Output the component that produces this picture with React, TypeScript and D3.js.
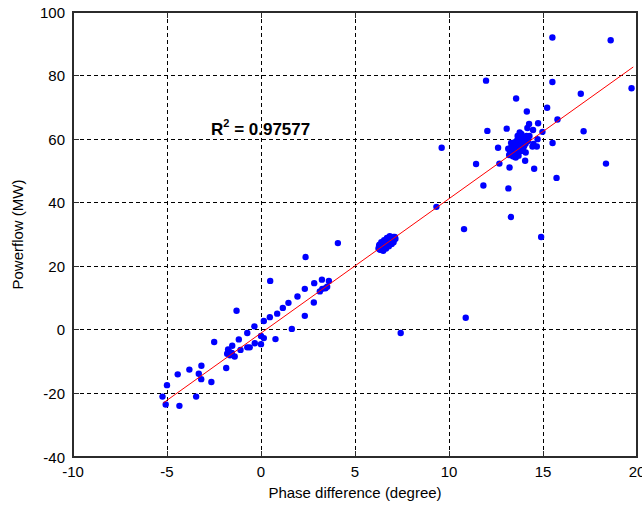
import React from "react";
import * as d3 from "d3";

const phaseDiff: number[] = [
  -5.24, -5.07, -5.0, -4.34, -4.43, -3.81, -3.45, -3.31, -3.17, -3.18, -2.64, -2.49, -1.85,
  -1.71, -1.55, -1.8, -1.65, -1.75, -1.4, -1.53, -1.09, -1.18, -0.73, -0.6, -0.73, -0.35,
  -0.33, 0.0, 0.15, 0.0, 0.15, 0.47, 0.77, 0.86, -1.3, 1.16, 1.46, 1.64, 1.94, 2.33, 2.33,
  2.81, 2.83, 3.13, 3.26, 3.43, 3.52, 3.24, 3.61, 0.49, 2.37, 4.09, 7.43,
  // cluster near 6.7
  6.25, 6.28, 6.32, 6.34, 6.38, 6.4, 6.45, 6.48, 6.5, 6.55, 6.58, 6.6, 6.63, 6.66, 6.7, 6.72,
  6.75, 6.78, 6.82, 6.85, 6.88, 6.92, 6.95, 6.98, 7.02, 7.05, 7.08, 7.12, 6.36, 6.52, 6.9, 7.15,
  6.4, 6.55, 6.7, 6.85, 6.5, 6.65, 6.8, 6.95, 7.05, 6.3,
  // cluster near 13.6
  13.2, 13.25, 13.3, 13.35, 13.38, 13.42, 13.45, 13.48, 13.5, 13.52, 13.55, 13.58, 13.6, 13.62,
  13.65, 13.68, 13.7, 13.72, 13.75, 13.78, 13.8, 13.82, 13.85, 13.88, 13.9, 13.92, 13.95, 13.98,
  14.0, 14.05, 14.08, 14.12, 13.4, 13.55, 13.3, 13.65, 13.85, 14.2, 13.15, 13.7,
  // scattered upper right
  12.04, 13.07, 14.26, 14.74, 14.47, 14.17, 13.76, 14.28, 14.71, 14.97, 14.49, 14.67, 14.44,
  14.08, 13.51, 14.05, 14.53, 12.61, 12.68, 13.22, 11.44, 9.61, 11.97, 13.57, 14.14, 15.22,
  15.77, 15.51, 15.72, 17.16, 18.35, 17.01, 19.71, 15.5, 15.5, 18.6, 11.83, 13.16, 9.33, 13.29,
  10.8, 14.9, 10.89,
];

const powerflow: number[] = [
  -21.0, -23.5, -17.4, -23.9, -14.0, -12.5, -21.0, -13.8, -11.3, -15.5, -16.4, -3.8, -12.0,
  -6.8, -7.3, -7.5, -8.0, -6.2, -8.4, -5.0, -6.3, -3.0, -5.5, -5.5, -1.0, 1.1,
  -4.2, -1.9, -2.6, -4.5, 2.8, 4.0, -2.9, 5.1, 6.0, 6.9, 8.5, 0.3, 10.5, 12.9, 4.4,
  8.6, 14.7, 12.1, 12.9, 13.1, 13.6, 15.8, 15.4, 15.4, 22.9, 27.3, -1.0,
  // cluster near 6.7
  25.6, 26.4, 25.3, 26.0, 26.8, 25.5, 26.2, 27.0, 25.9, 26.6, 27.4, 26.2, 27.0, 27.8, 26.6, 27.4,
  28.1, 27.0, 27.7, 28.4, 27.3, 28.0, 28.8, 27.8, 28.5, 29.2, 28.4, 29.2, 25.2, 27.6, 28.9, 28.7,
  27.6, 28.2, 28.9, 29.5, 24.9, 25.6, 26.3, 27.0, 27.6, 26.8,
  // cluster near 13.6
  55.0, 56.2, 57.4, 55.8, 58.2, 56.8, 55.3, 57.6, 59.0, 56.2, 58.0, 55.6, 57.2, 59.6,
  56.5, 58.4, 55.9, 57.8, 60.0, 56.8, 58.8, 57.4, 59.6, 56.3, 58.2, 60.4, 57.2, 59.0,
  57.9, 60.0, 58.6, 61.0, 54.6, 54.2, 58.8, 61.0, 61.6, 59.4, 57.0, 54.8,
  // scattered upper right
  62.6, 63.3, 64.8, 65.0, 62.9, 63.5, 62.1, 61.0, 60.0, 62.3, 58.5, 57.7, 57.7,
  55.8, 54.5, 53.2, 50.7, 57.3, 52.3, 51.1, 52.2, 57.3, 78.4, 72.8, 68.7, 69.9,
  66.2, 58.8, 47.8, 62.5, 52.3, 74.3, 76.0, 78.0, 92.0, 91.1, 45.4, 44.5, 38.7, 35.5,
  31.7, 29.2, 3.8,
];

const fitX: number[] = [-5.2, 19.8];
const fitY: number[] = [-23.0, 82.7];

const xTicks: number[] = [-10, -5, 0, 5, 10, 15, 20];
const yTicks: number[] = [-40, -20, 0, 20, 40, 60, 80, 100];

const xLabel = "Phase difference (degree)";
const yLabel = "Powerflow (MW)";
const r2Value = "0.97577";

export default function App() {
  const W = 642;
  const H = 509;
  const left = 73;
  const right = 637;
  const top = 12;
  const bottom = 457;

  const x = d3.scaleLinear().domain([-10, 20]).range([left, right]);
  const y = d3.scaleLinear().domain([-40, 100]).range([bottom, top]);

  const line = d3
    .line<number>()
    .x((_, i) => x(fitX[i]))
    .y((d) => y(d));

  const font = "'Liberation Sans', Arial, sans-serif";
  const axisColor = "#2b2b2b";
  const tickLen = 6;

  return (
    <svg
      width={W}
      height={H}
      style={{ position: "absolute", left: 0, top: 0, background: "#fff" }}
      fontFamily={font}
    >
      <rect x={0} y={0} width={W} height={H} fill="#fff" />
      {/* grid */}
      {xTicks.slice(1, -1).map((t) => (
        <line
          key={"gx" + t}
          x1={x(t)}
          x2={x(t)}
          y1={top}
          y2={bottom}
          stroke="#000"
          strokeWidth={1}
          strokeDasharray="4,3"
          shapeRendering="crispEdges"
        />
      ))}
      {yTicks.slice(1, -1).map((t) => (
        <line
          key={"gy" + t}
          x1={left}
          x2={right}
          y1={y(t)}
          y2={y(t)}
          stroke="#000"
          strokeWidth={1}
          strokeDasharray="4,3"
          shapeRendering="crispEdges"
        />
      ))}
      {/* points */}
      {phaseDiff.map((px, i) => (
        <circle key={"p" + i} cx={x(px)} cy={y(powerflow[i])} r={3.2} fill="#0000ff" />
      ))}
      {/* regression line */}
      <path d={line(fitY) || ""} fill="none" stroke="#ff0000" strokeWidth={1} />
      {/* frame */}
      <rect
        x={left}
        y={top}
        width={right - left}
        height={bottom - top}
        fill="none"
        stroke={axisColor}
        strokeWidth={1.3}
        shapeRendering="crispEdges"
      />
      {/* ticks */}
      {xTicks.map((t) => (
        <g key={"tx" + t}>
          <line x1={x(t)} x2={x(t)} y1={bottom} y2={bottom - tickLen} stroke={axisColor} shapeRendering="crispEdges" />
          <line x1={x(t)} x2={x(t)} y1={top} y2={top + tickLen} stroke={axisColor} shapeRendering="crispEdges" />
          <text x={x(t)} y={477} textAnchor="middle" fontSize={15} fill="#000">
            {t}
          </text>
        </g>
      ))}
      {yTicks.map((t) => (
        <g key={"ty" + t}>
          <line x1={left} x2={left + tickLen} y1={y(t)} y2={y(t)} stroke={axisColor} shapeRendering="crispEdges" />
          <line x1={right} x2={right - tickLen} y1={y(t)} y2={y(t)} stroke={axisColor} shapeRendering="crispEdges" />
          <text x={65} y={y(t) + 5.5} textAnchor="end" fontSize={15} fill="#000">
            {t}
          </text>
        </g>
      ))}
      {/* labels */}
      <text x={(left + right) / 2} y={498} textAnchor="middle" fontSize={15} fill="#000">
        {xLabel}
      </text>
      <text
        transform={`translate(23, ${(top + bottom) / 2}) rotate(-90)`}
        textAnchor="middle"
        fontSize={15}
        fill="#000"
      >
        {yLabel}
      </text>
      <text x={211} y={135} fontSize={17} fontWeight="bold" fill="#000">
        R
        <tspan fontSize={11} dy={-8}>
          2
        </tspan>
        <tspan dy={8}> = {r2Value}</tspan>
      </text>
    </svg>
  );
}
